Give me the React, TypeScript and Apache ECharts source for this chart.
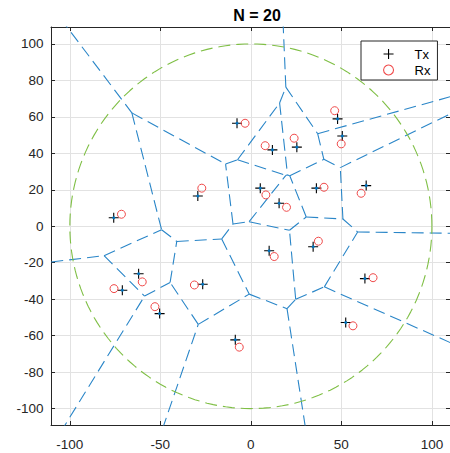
import React, { useEffect, useRef } from 'react';
import * as echarts from 'echarts';

const TITLE = 'N = 20';
const TX_X = [-7.65, -29.3, -75.75, 47.9, 50.5, 25.4, 11.9, 5.2, 15.6, 36.2, 63.7, 10.1, 34.4, 63.0, 52.4, -62.0, -71.0, -50.4, -26.6, -8.6];
const TX_Y = [56.5, 16.6, 4.7, 58.9, 49.5, 43.4, 41.9, 20.9, 12.6, 20.9, 22.3, -13.4, -11.2, -28.7, -52.8, -26.0, -35.1, -47.9, -31.8, -62.3];
const RX_X = [-3.2, -27.1, -71.5, 46.3, 49.9, 23.9, 7.9, 8.3, 19.7, 40.4, 60.9, 12.9, 37.3, 67.5, 56.4, -60.0, -75.6, -53.0, -31.2, -6.4];
const RX_Y = [56.5, 20.9, 6.6, 63.4, 45.2, 48.3, 44.2, 17.2, 10.4, 21.4, 18.1, -16.6, -8.2, -28.2, -54.6, -30.5, -34.2, -44.1, -32.2, -66.3];
const X_TICKS = [-100, -50, 0, 50, 100];
const Y_TICKS = [-100, -80, -60, -40, -20, 0, 20, 40, 60, 80, 100];
const X_RANGE = [-110.4, 110];
const Y_RANGE = [-109, 109.3];
const CIRCLE_RADIUS = 100;
const LEGEND_NAMES = ['Tx', 'Rx'];

const FONT = '"Liberation Sans", Arial, Helvetica, sans-serif';
const AXIS_COLOR = '#262626';
const GRID_COLOR = '#e2e2e2';
const BLUE = '#2a86c8';
const SITE_BLUE = '#0072BD';
const GREEN = '#7fbf45';
const RED = '#f04a4a';
const PLUS_PATH = 'path://M0,5L10,5M5,0L5,10';

// Voronoi edges of the Tx sites, each bisector clipped by all other sites' half-planes
function voronoiEdges(xs: number[], ys: number[], lim: number): number[][][] {
  const n = xs.length;
  const edges: number[][][] = [];
  for (let i = 0; i < n; i++) {
    for (let j = i + 1; j < n; j++) {
      const mx = (xs[i] + xs[j]) / 2;
      const my = (ys[i] + ys[j]) / 2;
      const dx = -(ys[j] - ys[i]);
      const dy = xs[j] - xs[i];
      let t0 = -Infinity;
      let t1 = Infinity;
      let ok = true;
      for (let k = 0; k < n && ok; k++) {
        if (k === i || k === j) continue;
        const ax = xs[k] - xs[i];
        const ay = ys[k] - ys[i];
        const b = (xs[k] * xs[k] + ys[k] * ys[k] - xs[i] * xs[i] - ys[i] * ys[i]) / 2;
        const den = dx * ax + dy * ay;
        const num = b - (mx * ax + my * ay);
        if (Math.abs(den) < 1e-12) {
          if (num < 0) ok = false;
          continue;
        }
        const t = num / den;
        if (den > 0) t1 = Math.min(t1, t);
        else t0 = Math.max(t0, t);
        if (t0 >= t1) ok = false;
      }
      if (!ok) continue;
      const clip = (p: number, d: number) => {
        if (Math.abs(d) < 1e-12) {
          if (p < -lim || p > lim) ok = false;
          return;
        }
        const ta = (-lim - p) / d;
        const tb = (lim - p) / d;
        t0 = Math.max(t0, Math.min(ta, tb));
        t1 = Math.min(t1, Math.max(ta, tb));
      };
      clip(mx, dx);
      clip(my, dy);
      if (!ok || !(t1 > t0)) continue;
      edges.push([
        [mx + t0 * dx, my + t0 * dy],
        [mx + t1 * dx, my + t1 * dy],
      ]);
    }
  }
  return edges;
}

export default function App() {
  const ref = useRef<HTMLDivElement>(null);
  useEffect(() => {
    if (!ref.current) return;
    const chart = echarts.init(ref.current, undefined, { renderer: 'svg' });
    const edges = voronoiEdges(TX_X, TX_Y, 130);
    const circle: number[][] = [];
    for (let a = 0; a <= 360; a += 2) {
      const r = (a * Math.PI) / 180;
      circle.push([CIRCLE_RADIUS * Math.cos(r), CIRCLE_RADIUS * Math.sin(r)]);
    }
    const tx = TX_X.map((x, i) => [x, TX_Y[i]]);
    const rx = RX_X.map((x, i) => [x, RX_Y[i]]);

    const tickCommon = { show: true, inside: true, length: 4, lineStyle: { color: AXIS_COLOR, width: 1 } };
    const lineCommon = { show: true, onZero: false, lineStyle: { color: AXIS_COLOR, width: 1 } };
    const labelCommon = { color: AXIS_COLOR, fontSize: 13.5, fontFamily: FONT };

    chart.setOption({
      animation: false,
      title: {
        text: TITLE,
        left: 252,
        top: 2,
        textAlign: 'center',
        textStyle: { fontFamily: FONT, fontSize: 16, fontWeight: 'bold', color: '#000' },
      },
      grid: { left: 51, top: 27, width: 400.4, height: 398 },
      legend: {
        data: [
          { name: LEGEND_NAMES[0], icon: PLUS_PATH },
          { name: LEGEND_NAMES[1], icon: 'circle' },
        ],
        orient: 'vertical',
        left: 361,
        top: 41,
        padding: [5, 7, 2, 22],
        itemWidth: 10,
        itemHeight: 10,
        itemGap: 0,
        backgroundColor: '#fff',
        borderColor: AXIS_COLOR,
        borderWidth: 1,
        borderRadius: 0,
        selectedMode: false,
        itemStyle: { borderWidth: 1.1 },
        textStyle: { fontSize: 13, fontFamily: FONT, color: '#000', lineHeight: 16, padding: [0, 0, 0, 16] },
      },
      xAxis: [
        {
          type: 'value',
          min: X_RANGE[0],
          max: X_RANGE[1],
          position: 'bottom',
          axisLine: lineCommon,
          axisTick: { ...tickCommon, customValues: X_TICKS },
          axisLabel: { ...labelCommon, customValues: X_TICKS, margin: 12 },
          splitLine: { show: true, lineStyle: { color: GRID_COLOR, width: 1 } },
        },
        {
          type: 'value',
          min: X_RANGE[0],
          max: X_RANGE[1],
          position: 'top',
          axisLine: lineCommon,
          axisTick: { ...tickCommon, customValues: X_TICKS },
          axisLabel: { show: false },
          splitLine: { show: false },
        },
      ],
      yAxis: [
        {
          type: 'value',
          min: Y_RANGE[0],
          max: Y_RANGE[1],
          position: 'left',
          axisLine: lineCommon,
          axisTick: { ...tickCommon, customValues: Y_TICKS },
          axisLabel: { ...labelCommon, customValues: Y_TICKS, margin: 7.5 },
          splitLine: { show: true, lineStyle: { color: GRID_COLOR, width: 1 } },
        },
        {
          type: 'value',
          min: Y_RANGE[0],
          max: Y_RANGE[1],
          position: 'right',
          axisLine: lineCommon,
          axisTick: { ...tickCommon, customValues: Y_TICKS },
          axisLabel: { show: false },
          splitLine: { show: false },
        },
      ],
      series: [
        {
          type: 'lines',
          name: 'voronoi',
          coordinateSystem: 'cartesian2d',
          polyline: false,
          clip: true,
          silent: true,
          z: 2,
          lineStyle: { color: BLUE, width: 1.1, type: [12, 6], opacity: 1, curveness: 0 },
          data: edges.map((e) => ({ coords: e })),
        },
        {
          type: 'line',
          name: 'circle',
          showSymbol: false,
          clip: true,
          silent: true,
          z: 2,
          lineStyle: { color: GREEN, width: 1.1, type: [12, 6] },
          data: circle,
        },
        {
          type: 'scatter',
          name: LEGEND_NAMES[0],
          symbol: PLUS_PATH,
          symbolSize: 10,
          silent: true,
          z: 3,
          itemStyle: { color: 'rgba(0,0,0,0)', borderColor: '#000', borderWidth: 1.1, opacity: 1 },
          data: tx,
        },
        {
          type: 'scatter',
          name: LEGEND_NAMES[1],
          symbol: 'circle',
          symbolSize: 8,
          silent: true,
          z: 3,
          itemStyle: { color: 'rgba(0,0,0,0)', borderColor: RED, borderWidth: 1, opacity: 1 },
          data: rx,
        },
        {
          type: 'scatter',
          name: 'sites',
          symbol: 'circle',
          symbolSize: 3,
          silent: true,
          z: 4,
          itemStyle: { color: SITE_BLUE, opacity: 1 },
          data: tx,
        },
      ],
    });
    return () => chart.dispose();
  }, []);
  return <div ref={ref} style={{ position: 'absolute', left: 0, top: 0, width: 450, height: 453 }} />;
}
